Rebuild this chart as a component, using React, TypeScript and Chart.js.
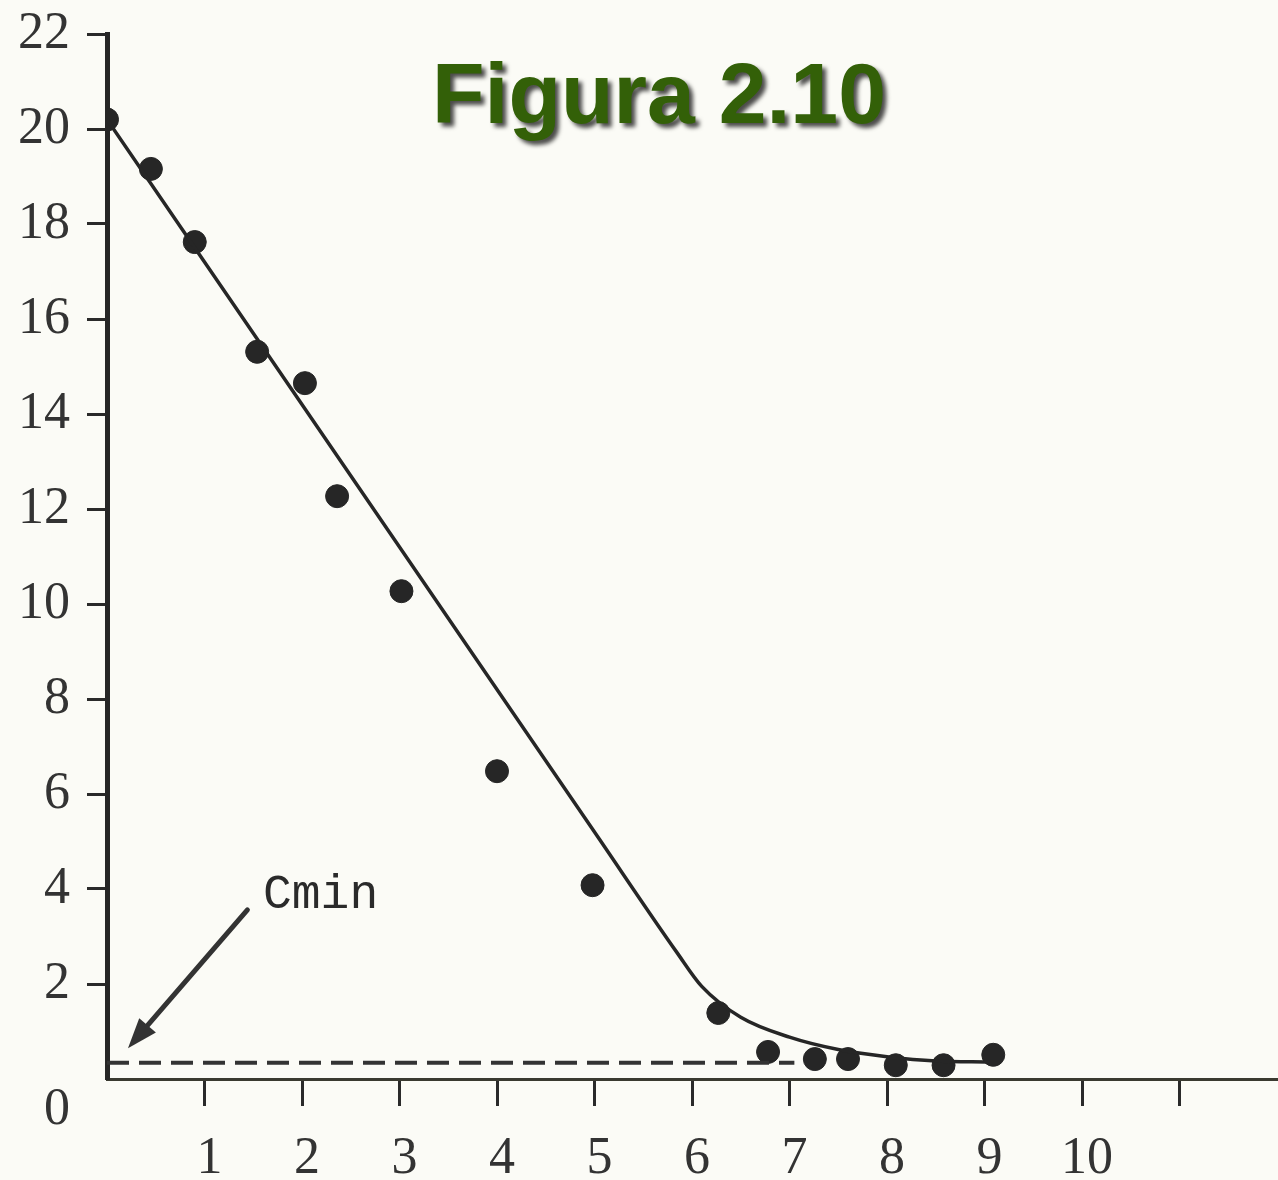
import React, { useEffect, useRef } from "react";
import { Chart, registerables } from "chart.js";

Chart.register(...registerables);

// Measured points (x, concentration)
const pointX = [0, 0.45, 0.9, 1.54, 2.03, 2.36, 3.02, 4.0, 4.98, 6.27, 6.78, 7.26, 7.6, 8.09, 8.58, 9.09];
const pointY = [20.2, 19.16, 17.62, 15.31, 14.65, 12.27, 10.27, 6.48, 4.08, 1.39, 0.57, 0.42, 0.42, 0.29, 0.29, 0.51];

// Hand-drawn fitted curve
const fitX = [0, 1, 2, 3, 4, 5, 5.85, 6.1, 6.5, 7.0, 7.5, 8.0, 8.5, 9.05];
const fitY = [20.2, 17.2, 14.2, 11.2, 8.2, 5.2, 2.65, 1.95, 1.3, 0.88, 0.62, 0.47, 0.38, 0.36];

// Cmin dashed level
const cminLevel = 0.34;
const cminXRange = [0, 7.05];

// Axis ticks
const xTickLabels = ["", "1", "2", "3", "4", "5", "6", "7", "8", "9", "10", "", ""];
const yTickValues = [0, 2, 4, 6, 8, 10, 12, 14, 16, 18, 20, 22];

// Annotation
const titleText = "Figura 2.10";
const cminText = "Cmin";
const cminTextAt = [1.6, 3.6];
const arrowFrom = [1.44, 3.56];
const arrowTo = [0.215, 0.65];

const INK = "#262626";
const BG = "#fbfbf6";
const SERIF = "'Liberation Serif', 'DejaVu Serif', serif";

const overlayPlugin = {
  id: "overlay",
  beforeDraw(chart: any) {
    const { ctx, width, height } = chart;
    ctx.save();
    ctx.fillStyle = BG;
    ctx.fillRect(0, 0, width, height);
    ctx.restore();
  },
  afterDraw(chart: any) {
    const { ctx } = chart;
    const xs = chart.scales.x;
    const ys = chart.scales.y;
    ctx.save();
    // arrow
    const x1 = xs.getPixelForValue(arrowFrom[0]);
    const y1 = ys.getPixelForValue(arrowFrom[1]);
    const x2 = xs.getPixelForValue(arrowTo[0]);
    const y2 = ys.getPixelForValue(arrowTo[1]);
    const ang = Math.atan2(y2 - y1, x2 - x1);
    const headLen = 30;
    const headW = 11;
    const bx = x2 - headLen * Math.cos(ang);
    const by = y2 - headLen * Math.sin(ang);
    ctx.strokeStyle = "#333";
    ctx.lineWidth = 5;
    ctx.lineCap = "round";
    ctx.beginPath();
    ctx.moveTo(x1, y1);
    ctx.lineTo(bx, by);
    ctx.stroke();
    ctx.fillStyle = "#333";
    ctx.beginPath();
    ctx.moveTo(x2, y2);
    ctx.lineTo(bx + headW * Math.sin(ang), by - headW * Math.cos(ang));
    ctx.lineTo(bx - headW * Math.sin(ang), by + headW * Math.cos(ang));
    ctx.closePath();
    ctx.fill();
    // Cmin text
    ctx.fillStyle = "#2a2a2a";
    ctx.font = "48px 'Liberation Mono', 'DejaVu Sans Mono', monospace";
    ctx.textAlign = "left";
    ctx.textBaseline = "alphabetic";
    ctx.fillText(cminText, xs.getPixelForValue(cminTextAt[0]), ys.getPixelForValue(cminTextAt[1]));
    // title
    ctx.font = "bold 86px 'Liberation Sans', Arial, sans-serif";
    ctx.textAlign = "center";
    ctx.shadowColor = "rgba(0,0,0,0.7)";
    ctx.shadowOffsetX = 4;
    ctx.shadowOffsetY = 4;
    ctx.shadowBlur = 4;
    ctx.fillStyle = "#336008";
    ctx.fillText(titleText, 659, 123);
    ctx.restore();
  },
};

export default function App() {
  const ref = useRef<HTMLCanvasElement | null>(null);
  useEffect(() => {
    if (!ref.current) return;
    const chart = new Chart(ref.current, {
      type: "scatter",
      data: {
        datasets: [
          {
            label: "fit",
            type: "line",
            data: fitX.map((x, i) => ({ x, y: fitY[i] })),
            borderColor: INK,
            borderWidth: 3.5,
            pointRadius: 0,
            cubicInterpolationMode: "monotone",
            fill: false,
          },
          {
            label: "Cmin",
            type: "line",
            data: cminXRange.map((x) => ({ x, y: cminLevel })),
            borderColor: "#333",
            borderWidth: 4,
            borderDash: [22, 10],
            pointRadius: 0,
            fill: false,
          },
          {
            label: "points",
            data: pointX.map((x, i) => ({ x, y: pointY[i] })),
            backgroundColor: INK,
            borderColor: INK,
            pointRadius: 11.5,
          },
        ],
      } as any,
      options: {
        animation: false,
        responsive: false,
        maintainAspectRatio: false,
        layout: { autoPadding: false, padding: { left: 0, top: 34, right: 1, bottom: 0 } },
        plugins: { legend: { display: false }, tooltip: { enabled: false }, title: { display: false } },
        scales: {
          x: {
            type: "linear",
            min: 0,
            max: 12,
            afterFit: (s: any) => {
              s.height = 101;
              s.paddingLeft = 0;
              s.paddingRight = 0;
            },
            border: { display: true, color: "#3a3a30", width: 3 },
            grid: {
              drawOnChartArea: false,
              drawTicks: true,
              tickLength: 27,
              tickWidth: 3,
              tickColor: (c: any) =>
                c.tick && c.tick.value >= 1 && c.tick.value <= 11 ? "#2a2a2a" : "rgba(0,0,0,0)",
            },
            ticks: {
              stepSize: 1,
              autoSkip: false,
              maxRotation: 0,
              padding: 22,
              labelOffset: 5,
              color: "#333",
              font: { family: SERIF, size: 52 },
              callback: (v: any) => xTickLabels[Math.round(Number(v))] ?? "",
            },
          },
          y: {
            type: "linear",
            min: 0,
            max: 22,
            afterFit: (s: any) => {
              s.width = 107;
              s.paddingTop = 0;
              s.paddingBottom = 0;
            },
            border: { display: true, color: INK, width: 5 },
            grid: {
              drawOnChartArea: false,
              drawTicks: true,
              tickLength: 20,
              tickWidth: 3,
              tickColor: (c: any) => (c.tick && c.tick.value > 0 ? "#2a2a2a" : "rgba(0,0,0,0)"),
            },
            afterBuildTicks: (s: any) => {
              s.ticks = yTickValues.map((v) => ({ value: v }));
            },
            ticks: {
              autoSkip: false,
              padding: 17,
              color: "#333",
              font: { family: SERIF, size: 52 },
              callback: (v: any) => (Number(v) === 0 ? ["", "0"] : String(v)),
            },
          },
        },
      } as any,
      plugins: [overlayPlugin],
    });
    return () => chart.destroy();
  }, []);
  return (
    <div style={{ position: "fixed", left: 0, top: 0, width: 1278, height: 1180, background: BG }}>
      <canvas ref={ref} width={1278} height={1180} style={{ width: 1278, height: 1180, display: "block" }} />
    </div>
  );
}
